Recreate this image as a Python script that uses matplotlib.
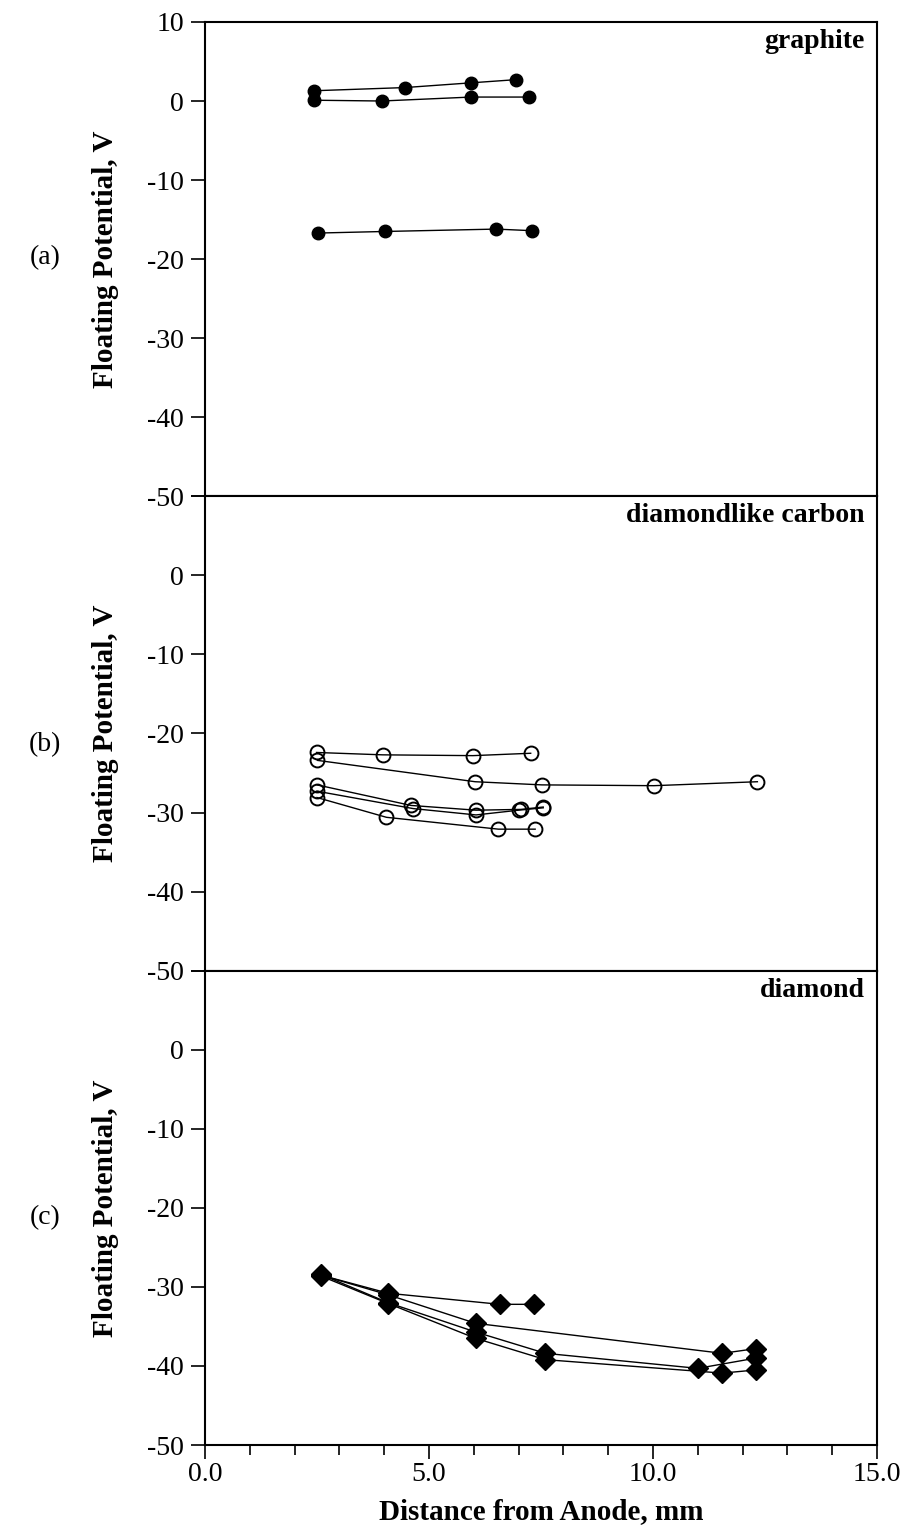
import matplotlib
matplotlib.use("Agg")
import matplotlib.pyplot as plt
from matplotlib.ticker import MultipleLocator, FixedLocator

plt.rcParams['font.family'] = ['Liberation Serif', 'DejaVu Serif']

# graphite: filled circles
graphite_x = [[2.44, 4.46, 5.94, 6.94],
              [2.44, 3.94, 5.94, 7.23],
              [2.53, 4.02, 6.50, 7.29]]
graphite_y = [[1.3, 1.7, 2.3, 2.7],
              [0.1, 0.0, 0.5, 0.5],
              [-16.7, -16.5, -16.2, -16.4]]

# diamondlike carbon: open circles
dlc_x = [[2.49, 3.97, 5.98, 7.27],
         [2.51, 6.03, 7.52, 10.02, 12.33],
         [2.50, 4.60, 6.05, 7.05, 7.55],
         [2.50, 4.65, 6.05, 7.00, 7.55],
         [2.50, 4.05, 6.55, 7.37]]
dlc_y = [[-22.4, -22.7, -22.8, -22.5],
         [-23.4, -26.1, -26.5, -26.6, -26.1],
         [-26.5, -29.1, -29.7, -29.6, -29.3],
         [-27.3, -29.5, -30.3, -29.7, -29.4],
         [-28.1, -30.6, -32.1, -32.1]]

# diamond: filled diamonds
dia_x = [[2.58, 4.09, 6.58, 7.34],
         [2.58, 4.09, 6.04, 11.55, 12.30],
         [2.58, 4.09, 6.04, 7.60, 11.00, 12.30],
         [2.58, 4.09, 6.04, 7.60, 11.55, 12.30]]
dia_y = [[-28.5, -30.8, -32.2, -32.2],
         [-28.5, -31.0, -34.6, -38.4, -37.8],
         [-28.4, -32.0, -35.7, -38.4, -40.3, -39.0],
         [-28.6, -32.1, -36.5, -39.2, -40.9, -40.5]]

panel_titles = ["graphite", "diamondlike carbon", "diamond"]
panel_tags = ["(a)", "(b)", "(c)"]
tag_rows = [258, 745, 1218]   # pixel rows of the (a)/(b)/(c) tags
y_ticks = [10, 0, -10, -20, -30, -40, -50]
x_major = [0.0, 5.0, 10.0, 15.0]

W, H = 914, 1535
fig = plt.figure(figsize=(W / 100, H / 100), dpi=100)
gs = fig.add_gridspec(3, 1, left=0.2243, right=0.9595, top=0.9857,
                      bottom=0.0586, hspace=0)
axes = [fig.add_subplot(gs[i]) for i in range(3)]

styles = [
    dict(marker='o', markersize=9, markerfacecolor='black', markeredgecolor='black'),
    dict(marker='o', markersize=10, markerfacecolor='none', markeredgecolor='black',
         markeredgewidth=1.4),
    dict(marker='D', markersize=10, markerfacecolor='black', markeredgecolor='black'),
]
series = [(graphite_x, graphite_y), (dlc_x, dlc_y), (dia_x, dia_y)]

for i, ax in enumerate(axes):
    xs, ys = series[i]
    for x, y in zip(xs, ys):
        ax.plot(x, y, color='black', linewidth=1.0, **styles[i])

    ax.set_xlim(0, 15)
    ax.set_ylim(-50, 10)
    for sp in ax.spines.values():
        sp.set_linewidth(1.5)

    ax.yaxis.set_major_locator(FixedLocator(y_ticks))
    labels = [str(v) for v in y_ticks]
    if i > 0:
        labels[0] = ""  # the -50 of the panel above sits here
    ax.set_yticklabels(labels)
    ax.tick_params(axis='y', direction='out', length=10, width=1.2,
                   labelsize=20, pad=5)

    ax.set_ylabel("Floating Potential, V", fontsize=21, fontweight='bold')
    ax.yaxis.set_label_coords(-0.128, 0.5)

    ax.text(0.982, 0.985, panel_titles[i], transform=ax.transAxes,
            ha='right', va='top', fontsize=20, fontweight='bold')

    fig.text(45 / W, 1 - tag_rows[i] / H, panel_tags[i], fontsize=20,
             ha='center', va='center')

    if i < 2:
        ax.tick_params(axis='x', which='both', bottom=False, labelbottom=False)

bottom_ax = axes[2]
bottom_ax.xaxis.set_major_locator(FixedLocator(x_major))
bottom_ax.xaxis.set_minor_locator(MultipleLocator(1.0))
bottom_ax.set_xticklabels([f"{v:.1f}" for v in x_major])
bottom_ax.tick_params(axis='x', which='major', direction='out', length=10,
                      width=1.2, labelsize=20, pad=2)
bottom_ax.tick_params(axis='x', which='minor', direction='out', length=7, width=1.2)
bottom_ax.set_xlabel("Distance from Anode, mm", fontsize=21, fontweight='bold',
                     labelpad=8)

fig.savefig("out.png", dpi=100)
